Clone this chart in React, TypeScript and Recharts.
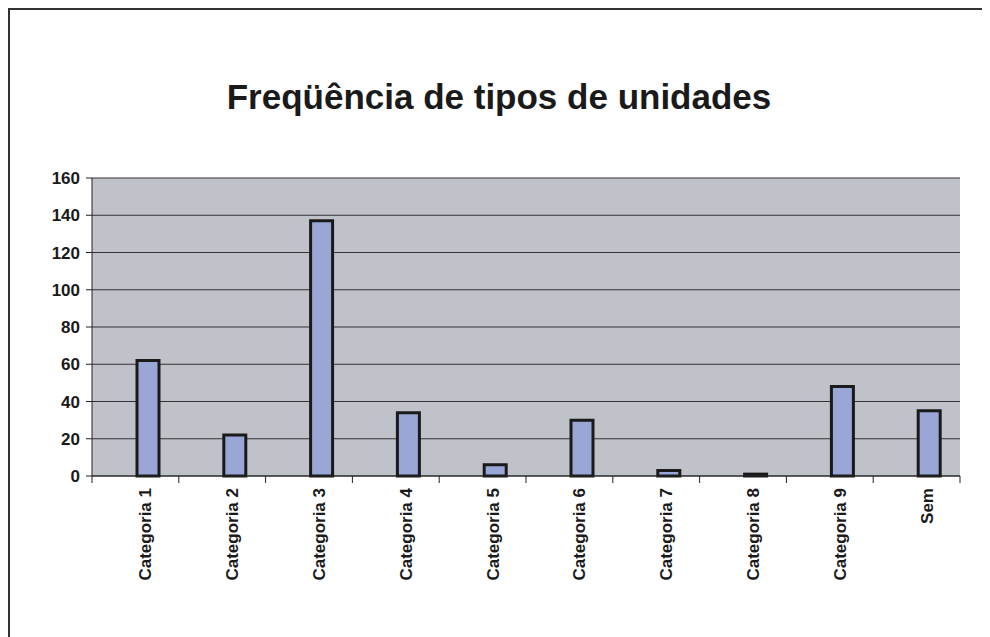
import { BarChart, Bar, XAxis, YAxis, CartesianGrid } from 'recharts'

const categorias = ['Categoria 1', 'Categoria 2', 'Categoria 3', 'Categoria 4', 'Categoria 5', 'Categoria 6', 'Categoria 7', 'Categoria 8', 'Categoria 9', 'Sem']
const frequencias = [62, 22, 137, 34, 6, 30, 3, 1, 48, 35]
const yTicks = [0, 20, 40, 60, 80, 100, 120, 140, 160]

const data = categorias.map((c, i) => ({ categoria: c, freq: frequencias[i] }))

const W = 982
const H = 629
const margin = { top: 170, right: 30, bottom: 61, left: 24 }
const Y_WIDTH = 60
const plotWidth = W - margin.left - margin.right - Y_WIDTH
const band = plotWidth / categorias.length
const font = '"Liberation Sans", Arial, sans-serif'

const CategoryTick = ({ x, y, payload, index }: any) => {
  const last = index === categorias.length - 1
  return (
    <g>
      <line x1={x - band / 2} y1={y} x2={x - band / 2} y2={y + 7} stroke="#222" strokeWidth={1} />
      {last && <line x1={x + band / 2} y1={y} x2={x + band / 2} y2={y + 7} stroke="#222" strokeWidth={1} />}
      <g transform={`translate(${x + 10},${y + 12})`}>
        <text
          transform="rotate(-90)"
          textAnchor="end"
          dy="0.35em"
          fill="#1a1a1a"
          fontSize={17}
          fontWeight="bold"
          fontFamily={font}
        >
          {payload.value}
        </text>
      </g>
    </g>
  )
}

export default function App() {
  return (
    <div style={{ position: 'relative', width: W, height: H, background: '#fff', fontFamily: font, overflow: 'hidden' }}>
      <style>{'html, body { overflow: hidden; }'}</style>
      <div
        style={{
          position: 'absolute',
          left: 0,
          top: 0,
          width: W + 40,
          height: H + 40,
          borderTop: '2px solid #333',
          borderLeft: '2px solid #333',
          boxSizing: 'border-box',
        }}
      />
      <div
        style={{
          position: 'absolute',
          left: 0,
          width: W,
          top: 69,
          textAlign: 'center',
          fontSize: 35,
          fontWeight: 'bold',
          color: '#1a1a1a',
        }}
      >
        Freqüência de tipos de unidades
      </div>
      <div style={{ position: 'absolute', left: 0, top: 0 }}>
        <BarChart width={W} height={H} data={data} margin={margin} barGap={3} barSize={22}>
          <CartesianGrid vertical={false} fill="#c0c2ca" stroke="#333" strokeWidth={1} fillOpacity={1} />
          <XAxis
            dataKey="categoria"
            interval={0}
            height={100}
            tickSize={0}
            tickMargin={0}
            tickLine={false}
            axisLine={{ stroke: '#222', strokeWidth: 1 }}
            tick={<CategoryTick />}
          />
          <YAxis
            width={Y_WIDTH}
            domain={[0, 160]}
            ticks={yTicks}
            interval={0}
            tickSize={6}
            tickMargin={6}
            axisLine={{ stroke: '#222', strokeWidth: 1 }}
            tickLine={{ stroke: '#222', strokeWidth: 1 }}
            tick={{ fill: '#1a1a1a', fontSize: 17, fontWeight: 'bold', fontFamily: font }}
          />
          <Bar dataKey="reservado" isAnimationActive={false} />
          <Bar dataKey="freq" fill="#99a6d6" stroke="#1a1a1a" strokeWidth={3} isAnimationActive={false} />
        </BarChart>
      </div>
    </div>
  )
}
